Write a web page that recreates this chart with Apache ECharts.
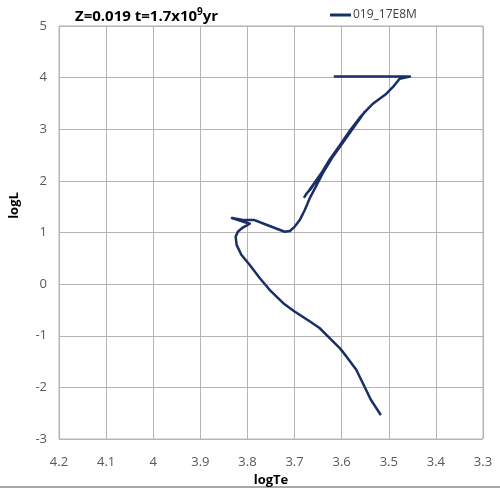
<!DOCTYPE html>
<html>
<head>
<meta charset="utf-8">
<script src="https://cdn.jsdelivr.net/npm/echarts@6/dist/echarts.min.js"></script>
<style>html,body{margin:0;padding:0;background:#fff;}#c{width:500px;height:488px;}</style>
</head>
<body>
<div id="c"></div>
<script>
// Track: logTe values and logL values (in path order)
const seriesName = '019_17E8M';
const logTe = [
  3.518, 3.538, 3.555, 3.569, 3.590, 3.604, 3.625, 3.647, 3.668, 3.700,
  3.724, 3.753, 3.774, 3.795, 3.813, 3.823, 3.825, 3.820, 3.809, 3.795,
  3.833, 3.806, 3.785, 3.757, 3.721, 3.710, 3.700, 3.689, 3.678, 3.668,
  3.657, 3.640, 3.620, 3.600, 3.578, 3.560, 3.551,
  3.679, 3.675, 3.677, 3.665, 3.645, 3.625, 3.603, 3.582, 3.562, 3.548,
  3.533, 3.505, 3.491, 3.477, 3.455, 3.6145
];
const logL = [
  -2.52, -2.24, -1.92, -1.66, -1.40, -1.24, -1.05, -0.85, -0.72, -0.53,
  -0.37, -0.11, 0.12, 0.37, 0.57, 0.76, 0.92, 1.02, 1.10, 1.17,
  1.28, 1.24, 1.24, 1.14, 1.015, 1.03, 1.11, 1.24, 1.44, 1.66,
  1.85, 2.15, 2.45, 2.72, 3.00, 3.22, 3.34,
  1.69, 1.75, 1.72, 1.85, 2.12, 2.42, 2.70, 2.98, 3.22, 3.36,
  3.50, 3.69, 3.82, 3.98, 4.02, 4.02
];
const xTicks = ['3.3','3.4','3.5','3.6','3.7','3.8','3.9','4','4.1','4.2'];
const yTicks = ['-3','-2','-1','0','1','2','3','4','5'];

const data = logTe.map((x, i) => [x, logL[i]]);
const gridColor = '#b4b4b4';
const labelColor = '#595959';
const font = 'Open Sans';

const chart = echarts.init(document.getElementById('c'), null, {renderer: 'canvas'});
chart.setOption({
  animation: false,
  backgroundColor: '#ffffff',
  title: {
    text: '{a|Z=0.019 t=1.7x10}{s|9}{a|yr}',
    left: 70, top: 2,
    textStyle: {
      rich: {
        a: {fontFamily: font, fontWeight: 'bold', fontSize: 15, color: '#000', lineHeight: 20},
        s: {fontFamily: font, fontWeight: 'bold', fontSize: 10, color: '#000', lineHeight: 20, verticalAlign: 'top'}
      }
    }
  },
  legend: {
    data: [{name: seriesName, icon: 'rect'}],
    left: 325, top: 4,
    itemWidth: 21, itemHeight: 3,
    itemGap: 2,
    textStyle: {fontFamily: font, fontSize: 12, color: '#404040', padding: [0,0,0,-3]}
  },
  grid: {left: 59, right: 17, top: 26, bottom: 49, show: true, borderColor: gridColor, borderWidth: 1,
         containLabel: false, outerBoundsMode: 'none'},
  xAxis: {
    type: 'value', inverse: true, min: 3.3, max: 4.2, interval: 0.1,
    name: 'logTe', nameLocation: 'middle', nameGap: 32,
    nameTextStyle: {fontFamily: font, fontWeight: 'bold', fontSize: 13, color: '#000'},
    axisLine: {show: true, lineStyle: {color: gridColor}},
    axisTick: {show: false},
    splitLine: {show: true, lineStyle: {color: gridColor, width: 1}},
    axisLabel: {
      fontFamily: font, fontSize: 13, color: labelColor, margin: 17,
      formatter: v => xTicks[Math.round((v - 3.3) * 10)]
    }
  },
  yAxis: {
    type: 'value', min: -3, max: 5, interval: 1,
    name: 'logL', nameLocation: 'middle', nameGap: 38, nameRotate: 90,
    nameTextStyle: {fontFamily: font, fontWeight: 'bold', fontSize: 13, color: '#000', padding: [0,0,0,54]},
    axisLine: {show: true, lineStyle: {color: gridColor}},
    axisTick: {show: false},
    splitLine: {show: true, lineStyle: {color: gridColor, width: 1}},
    axisLabel: {
      fontFamily: font, fontSize: 13, color: labelColor, margin: 12,
      formatter: v => yTicks[Math.round(v + 3)]
    }
  },
  graphic: [{
    type: 'line', shape: {x1: 0, y1: 487, x2: 500, y2: 487},
    style: {stroke: '#8c8c8c', lineWidth: 1.5}, silent: true
  }],
  series: [{
    name: seriesName, type: 'line', data: data,
    showSymbol: false, symbol: 'none', smooth: false,
    lineStyle: {color: '#1a2f66', width: 2.5, join: 'round', cap: 'round'},
    itemStyle: {color: '#1a2f66'}
  }]
});
</script>
</body>
</html>
